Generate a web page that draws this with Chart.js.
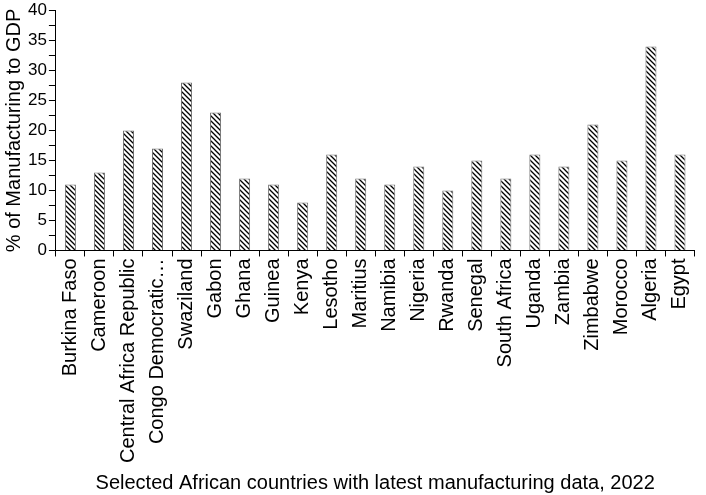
<!DOCTYPE html>
<html>
<head>
<meta charset="utf-8">
<script src="https://cdn.jsdelivr.net/npm/chart.js@4"></script>
<style>
html,body{margin:0;padding:0;background:#fff;}
#wrap{width:706px;height:495px;}
</style>
</head>
<body>
<div id="wrap"><canvas id="c" width="706" height="495"></canvas></div>
<script>
const categories = ["Burkina Faso","Cameroon","Central Africa Republic","Congo Democratic…","Swaziland","Gabon","Ghana","Guinea","Kenya","Lesotho","Maritius","Namibia","Nigeria","Rwanda","Senegal","South Africa","Uganda","Zambia","Zimbabwe","Morocco","Algeria","Egypt"];
const manufacturingShare = [11,13,20,17,28,23,12,11,8,16,12,11,14,10,15,12,16,14,21,15,34,16];
const yTickLabels = [0,5,10,15,20,25,30,35,40];
const yAxisTitle = "% of Manufacturing to GDP";
const xAxisTitle = "Selected African countries with latest manufacturing data, 2022";

function hatch(){
  const s = 5;
  const p = document.createElement('canvas');
  p.width = s; p.height = s;
  const g = p.getContext('2d');
  g.fillStyle = '#fff'; g.fillRect(0,0,s,s);
  g.strokeStyle = '#000'; g.lineWidth = 1.3;
  g.beginPath();
  g.moveTo(0,0); g.lineTo(s,s);
  g.moveTo(-1,s-1); g.lineTo(1,s+1);
  g.moveTo(s-1,-1); g.lineTo(s+1,1);
  g.stroke();
  return g.createPattern(p,'repeat');
}

Chart.defaults.font.family = "'Liberation Sans', Arial, sans-serif";
Chart.defaults.color = '#000';

new Chart(document.getElementById('c'), {
  type: 'bar',
  data: {
    labels: categories,
    datasets: [{
      data: manufacturingShare,
      backgroundColor: hatch(),
      borderColor: '#6f6f6f',
      borderWidth: 1,
      categoryPercentage: 1,
      barPercentage: 0.38
    }]
  },
  options: {
    responsive: false,
    animation: false,
    devicePixelRatio: 1,
    layout: { padding: { top: 0, right: 1, left: 2, bottom: 0 } },
    plugins: { legend: { display: false }, tooltip: { enabled: false } },
    scales: {
      x: {
        grid: { display: true, drawOnChartArea: false, offset: true, tickLength: 6, color: '#000' },
        border: { color: '#000', width: 1 },
        ticks: { font: { size: 20 }, maxRotation: 90, minRotation: 90, autoSkip: false, padding: 2 },
        title: { display: true, text: xAxisTitle, font: { size: 20 }, padding: { top: 6, bottom: 0 } }
      },
      y: {
        min: 0, max: 40,
        grid: { display: true, drawOnChartArea: false, tickLength: 7, color: '#000' },
        border: { color: '#000', width: 1 },
        ticks: {
          stepSize: 2.5, autoSkip: false, font: { size: 17, lineHeight: 1 }, padding: 2,
          callback: v => yTickLabels.includes(v) ? String(v) : ''
        },
        title: { display: true, text: yAxisTitle, font: { size: 20 }, padding: { top: 0, bottom: 0 } }
      }
    }
  }
});
</script>
</body>
</html>
